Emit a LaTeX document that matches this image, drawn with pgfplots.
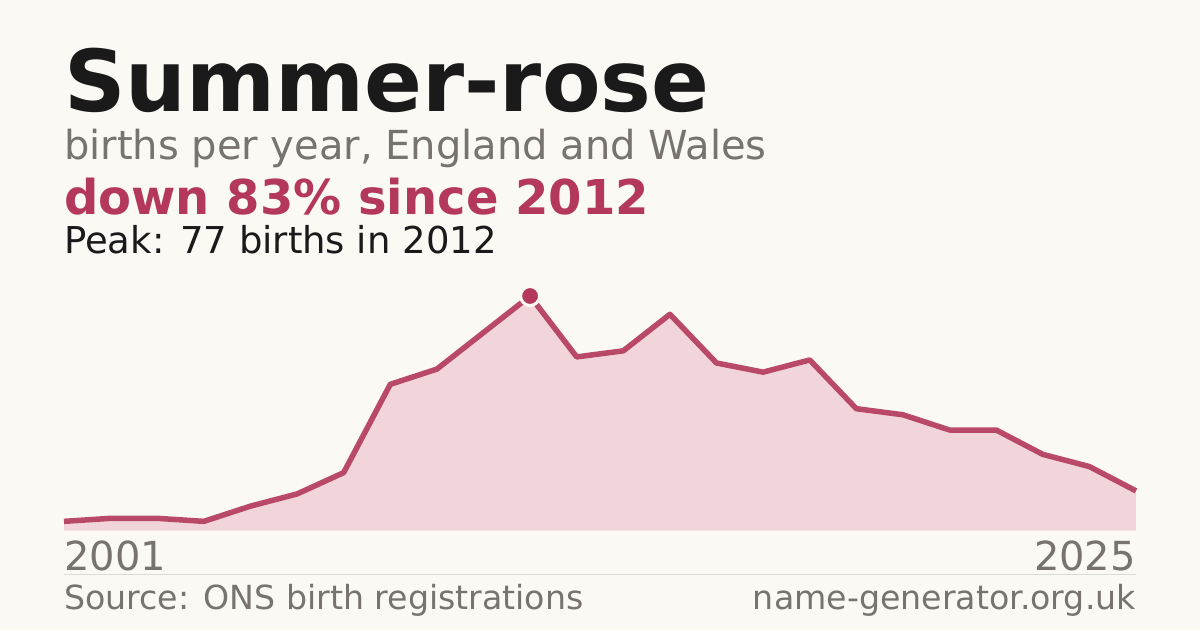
\documentclass[border=0pt]{standalone}
\usepackage{pgfplots}
\pgfplotsset{compat=1.18}
\usepackage{fontspec}
\setmainfont{DejaVu Sans}
\definecolor{bg}{HTML}{FAF9F4}
\definecolor{accent}{HTML}{B3385A}
\definecolor{areafill}{HTML}{F1D5DA}
\definecolor{titlecol}{HTML}{1A1A1A}
\definecolor{greytext}{HTML}{78736C}
\definecolor{rule}{HTML}{DDDAD3}
\begin{document}
\begin{tikzpicture}[x=1pt,y=1pt]
\fill[bg] (0,0) rectangle (1200,630);
\useasboundingbox (0,0) rectangle (1200,630);
\node[anchor=base west,inner sep=0pt,text=titlecol,font=\fontsize{85.4}{90}\selectfont\bfseries] at (64,518) {Summer-rose};
\node[anchor=base west,inner sep=0pt,text=greytext,font=\fontsize{40}{44}\selectfont] at (64,470.5) {births per year, England and Wales};
\node[anchor=base west,inner sep=0pt,text=accent,font=\fontsize{48}{52}\selectfont\bfseries] at (64,415.5) {down 83\% since 2012};
\node[anchor=base west,inner sep=0pt,text=titlecol,font=\fontsize{37}{40}\selectfont] at (64,376.5) {Peak: 77 births in 2012};
\begin{axis}[
  at={(64pt,99.5pt)}, anchor=south west,
  width=1072pt, height=234.5pt, scale only axis,
  xmin=2002, xmax=2025, ymin=0, ymax=77,
  axis lines=none, clip=false,
]
\addplot[fill=areafill, draw=none] coordinates {
(2002,3) (2003,4) (2004,4) (2005,3) (2006,8) (2007,12) (2008,19) (2009,48)
(2010,53) (2011,65) (2012,77) (2013,57) (2014,59) (2015,71) (2016,55) (2017,52)
(2018,56) (2019,40) (2020,38) (2021,33) (2022,33) (2023,25) (2024,21) (2025,13)
} \closedcycle;
\addplot[draw=accent, line width=5.5pt, line join=round, opacity=0.9] coordinates {
(2002,3) (2003,4) (2004,4) (2005,3) (2006,8) (2007,12) (2008,19) (2009,48)
(2010,53) (2011,65) (2012,77) (2013,57) (2014,59) (2015,71) (2016,55) (2017,52)
(2018,56) (2019,40) (2020,38) (2021,33) (2022,33) (2023,25) (2024,21) (2025,13)
};
\addplot[only marks, mark=*, mark size=9.5pt, mark options={fill=accent, draw=bg, line width=3pt}] coordinates {(2012,77)};
\end{axis}
\node[anchor=base west,inner sep=0pt,text=greytext,font=\fontsize{40}{44}\selectfont] at (64,60) {2001};
\node[anchor=base east,inner sep=0pt,text=greytext,font=\fontsize{40}{44}\selectfont] at (1136,60) {2025};
\draw[rule, line width=1pt] (64,56) -- (1136,56);
\node[anchor=base west,inner sep=0pt,text=greytext,font=\fontsize{33.2}{36}\selectfont] at (64,20.5) {Source: ONS birth registrations};
\node[anchor=base east,inner sep=0pt,text=greytext,font=\fontsize{33.2}{36}\selectfont] at (1136,20.5) {name-generator.org.uk};
\end{tikzpicture}
\end{document}
